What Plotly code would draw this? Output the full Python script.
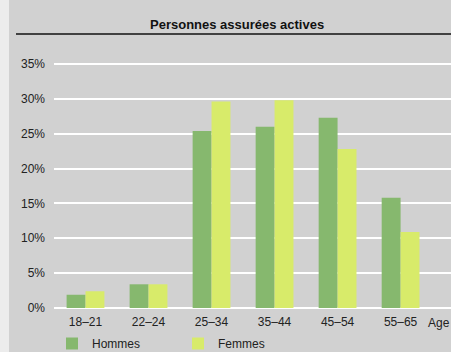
import plotly.graph_objects as go

categories = ["18–21", "22–24", "25–34", "35–44", "45–54", "55–65"]
hommes = [1.9, 3.4, 25.4, 26.0, 27.3, 15.8]
femmes = [2.4, 3.4, 29.6, 29.8, 22.8, 10.9]
ytick_vals = [0, 5, 10, 15, 20, 25, 30, 35]
ytick_text = ["0%", "5%", "10%", "15%", "20%", "25%", "30%", "35%"]

FONT = "Liberation Sans, Arial, sans-serif"
W, H = 451, 352
ML, MR, MT, MB = 54, 0, 50, 44
PW = W - ML - MR
PH = H - MT - MB

fig = go.Figure()
fig.add_trace(go.Bar(x=categories, y=hommes, name="Hommes", marker_color="#86b86e",
                     marker_line_width=0))
fig.add_trace(go.Bar(x=categories, y=femmes, name="Femmes", marker_color="#d8eb6a",
                     marker_line_width=0))

def px_x(p):
    return (p - ML) / PW

def px_y(p):
    return (H - MB - p) / PH

fig.update_layout(
    width=W, height=H,
    margin=dict(l=ML, r=MR, t=MT, b=MB, pad=0, autoexpand=False),
    paper_bgcolor="#d1d1d1",
    plot_bgcolor="#d1d1d1",
    barmode="group",
    bargap=0.4,
    bargroupgap=0,
    font=dict(family=FONT, size=12, color="#222222"),
    showlegend=True,
    legend=dict(orientation="h", x=px_x(52), xanchor="left", y=px_y(329), yanchor="top",
                entrywidth=81, entrywidthmode="pixels", bgcolor="rgba(0,0,0,0)",
                font=dict(family=FONT, size=12, color="#222222"), itemclick=False),
    xaxis=dict(range=[-0.5, 5.8], showgrid=False, zeroline=False, showline=False,
               ticks="", ticklabelstandoff=5,
               tickfont=dict(family=FONT, size=12, color="#222222")),
    yaxis=dict(range=[0, 37], tickvals=ytick_vals, ticktext=ytick_text,
               showgrid=True, gridcolor="#ffffff", gridwidth=2,
               zeroline=True, zerolinecolor="#ffffff", zerolinewidth=2,
               showline=False, ticks="", ticklabelstandoff=8,
               tickfont=dict(family=FONT, size=12, color="#222222")),
    shapes=[
        dict(type="rect", xref="paper", yref="paper", x0=px_x(-5), x1=px_x(9),
             y0=px_y(400), y1=px_y(-50), fillcolor="#ececec", line_width=0, layer="below"),
        dict(type="line", xref="paper", yref="paper", x0=px_x(16), x1=px_x(452),
             y0=px_y(34), y1=px_y(34), line=dict(color="#111111", width=1.5)),
    ],
    annotations=[
        dict(text="<b>Personnes assurées actives</b>", xref="paper", yref="paper",
             x=px_x(237), y=px_y(24), xanchor="center", yanchor="middle", showarrow=False,
             font=dict(family=FONT, size=13, color="#111111")),
        dict(text="Age", xref="paper", yref="paper", x=px_x(451), y=px_y(323),
             xanchor="right", yanchor="middle", showarrow=False, borderpad=0,
             font=dict(family=FONT, size=12, color="#222222")),
    ],
)

fig.write_html("out.html")
